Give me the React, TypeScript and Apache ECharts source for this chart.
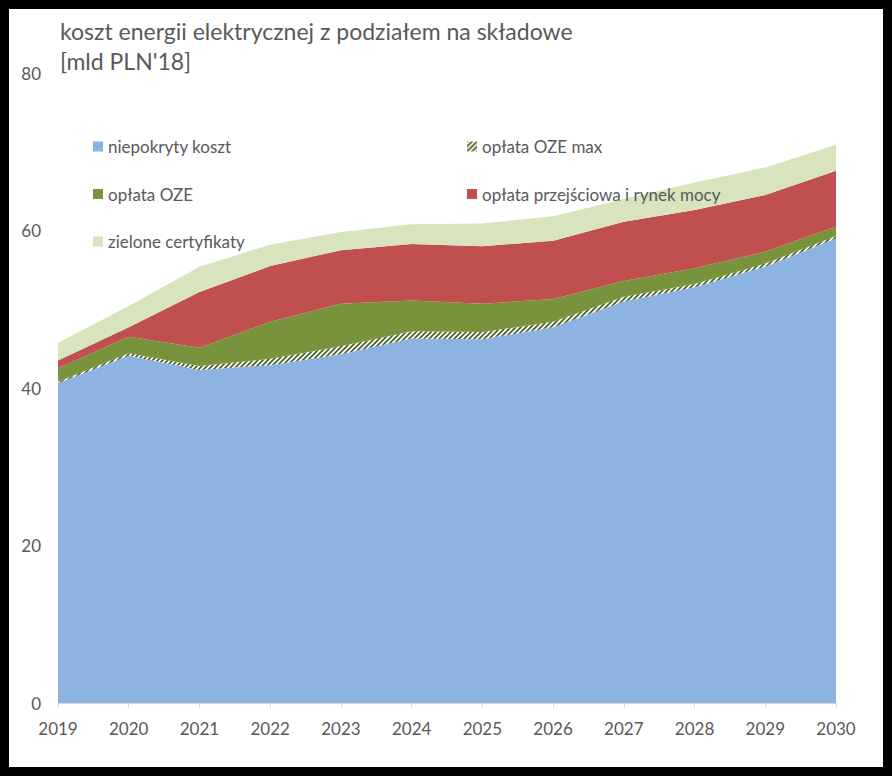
import React, { useEffect, useRef } from "react";
import * as echarts from "echarts";

const years = ["2019", "2020", "2021", "2022", "2023", "2024", "2025", "2026", "2027", "2028", "2029", "2030"];
const niepokrytyKoszt = [40.6, 44.1, 42.3, 42.9, 44.3, 46.3, 46.2, 47.7, 51.0, 52.8, 55.4, 59.0];
const oplataOzeMax = [0.2, 0.3, 0.5, 0.8, 1.0, 0.9, 0.9, 0.7, 0.6, 0.4, 0.4, 0.3];
const oplataOze = [1.7, 2.1, 2.3, 4.7, 5.4, 3.9, 3.6, 2.9, 2.0, 2.0, 1.5, 1.2];
const oplataPrzejsciowa = [1.0, 1.2, 7.1, 7.1, 6.8, 7.2, 7.3, 7.4, 7.5, 7.4, 7.2, 7.1];
const zieloneCertyfikaty = [2.2, 2.7, 3.2, 2.7, 2.3, 2.5, 2.9, 3.1, 2.9, 3.5, 3.5, 3.3];
const yTicks = [0, 20, 40, 60, 80];

const FONT = "Lato, 'Open Sans', sans-serif";
const TXT = "#595959";

function makePattern(): HTMLCanvasElement {
  const c = document.createElement("canvas");
  const s = 5;
  c.width = s;
  c.height = s;
  const ctx = c.getContext("2d")!;
  ctx.fillStyle = "#ffffff";
  ctx.fillRect(0, 0, s, s);
  ctx.strokeStyle = "#4f6228";
  ctx.lineWidth = 1.8;
  ctx.beginPath();
  ctx.moveTo(-1, s + 1);
  ctx.lineTo(s + 1, -1);
  ctx.moveTo(-s / 2 - 1, s / 2 + 1);
  ctx.lineTo(s / 2 + 1, -s / 2 - 1);
  ctx.moveTo(s / 2 - 1, s * 1.5 + 1);
  ctx.lineTo(s * 1.5 + 1, s / 2 - 1);
  ctx.stroke();
  return c;
}

export default function App() {
  const ref = useRef<HTMLDivElement>(null);
  useEffect(() => {
    if (!ref.current) return;
    const chart = echarts.init(ref.current, undefined, { renderer: "svg" });
    const pattern = { image: makePattern(), repeat: "repeat" as const };
    const mk = (name: string, data: number[], color: any) => ({
      name,
      type: "line" as const,
      stack: "total",
      data,
      symbol: "none",
      lineStyle: { width: 0 },
      itemStyle: { color },
      areaStyle: { color, opacity: 1 },
    });
    const legendText = { fontFamily: FONT, fontSize: 17, color: TXT, lineHeight: 16 };
    chart.setOption({
      animation: false,
      backgroundColor: "#ffffff",
      title: {
        text: "koszt energii elektrycznej z podziałem na składowe\n[mld PLN'18]",
        left: 46,
        top: 2,
        textStyle: { fontFamily: FONT, fontSize: 23, fontWeight: "normal", color: TXT, lineHeight: 30 },
      },
      legend: [
        {
          left: 79,
          top: 124,
          orient: "vertical",
          itemWidth: 10,
          itemHeight: 10,
          itemGap: 30.5,
          icon: "rect",
          data: ["niepokryty koszt", "opłata OZE", "zielone certyfikaty"],
          textStyle: legendText,
        },
        {
          left: 453,
          top: 124,
          orient: "vertical",
          itemWidth: 10,
          itemHeight: 10,
          itemGap: 30.5,
          icon: "rect",
          data: ["opłata OZE max", "opłata przejściowa i rynek mocy"],
          textStyle: legendText,
        },
      ],
      grid: { left: 49, right: 47, top: 64, bottom: 64, containLabel: false },
      xAxis: {
        type: "category",
        boundaryGap: false,
        data: years,
        axisLine: { lineStyle: { color: "#d9d9d9", width: 1 } },
        axisTick: { show: true, alignWithLabel: true, length: 5, lineStyle: { color: "#d9d9d9" } },
        axisLabel: { fontFamily: FONT, fontSize: 17, color: TXT, margin: 17 },
      },
      yAxis: {
        type: "value",
        min: yTicks[0],
        max: yTicks[yTicks.length - 1],
        interval: 20,
        axisLine: { show: false },
        axisTick: { show: false },
        splitLine: { show: false },
        axisLabel: { fontFamily: FONT, fontSize: 17, color: TXT, margin: 17 },
      },
      series: [
        mk("niepokryty koszt", niepokrytyKoszt, "#8db3e2"),
        mk("opłata OZE max", oplataOzeMax, pattern),
        mk("opłata OZE", oplataOze, "#77933c"),
        mk("opłata przejściowa i rynek mocy", oplataPrzejsciowa, "#c0504d"),
        mk("zielone certyfikaty", zieloneCertyfikaty, "#d7e4bd"),
      ],
    });
    return () => chart.dispose();
  }, []);
  return (
    <div style={{ position: "fixed", left: 0, top: 0, width: 892, height: 776, background: "#000" }}>
      <div ref={ref} style={{ position: "absolute", left: 9, top: 9, width: 874, height: 758, background: "#fff" }} />
    </div>
  );
}
